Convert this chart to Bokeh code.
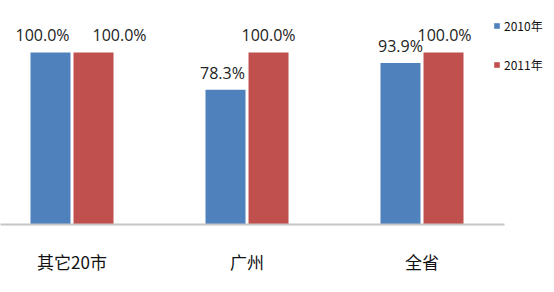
from bokeh.plotting import figure
from bokeh.models import ColumnDataSource, FixedTicker, Legend, LegendItem, Range1d
from bokeh.transform import dodge
from bokeh.core.properties import value
from bokeh.embed import file_html
from bokeh.resources import INLINE

# ---- data ----
categories = ["其它20市", "广州", "全省"]
series_names = ["2010年", "2011年"]
v2010 = [100.0, 78.3, 93.9]
v2011 = [100.0, 100.0, 100.0]

# ---- styling (label nudges, not data) ----
dx2010 = [-8, -3, 0]
dx2011 = [26, 0, 1]

idx = list(range(len(categories)))
src = ColumnDataSource(dict(
    x=idx,
    v2010=v2010,
    v2011=v2011,
    t2010=["%.1f%%" % v for v in v2010],
    t2011=["%.1f%%" % v for v in v2011],
    dx2010=dx2010,
    dx2011=dx2011,
))

FW = 504
p = figure(output_backend="svg", toolbar_location=None,
           frame_width=FW, frame_height=224,
           x_range=Range1d(-0.4086, -0.4086 + FW / 175.0), y_range=Range1d(0, 130.2),
           y_axis_location=None, min_border_left=0, min_border_top=0,
           min_border_right=50, min_border_bottom=68)
p.outline_line_color = None
p.xgrid.grid_line_color = None
p.ygrid.grid_line_color = None
p.background_fill_color = "white"
p.border_fill_color = "white"

W = 0.2286
OFF = 0.1229
BLUE = "#4F81BD"
RED = "#C0504D"

r1 = p.vbar(x=dodge("x", -OFF), top="v2010", width=W, source=src,
            fill_color=BLUE, line_color=None)
r2 = p.vbar(x=dodge("x", OFF), top="v2011", width=W, source=src,
            fill_color=RED, line_color=None)

p.text(x=dodge("x", -OFF), y="v2010", text="t2010", x_offset="dx2010", y_offset=-17,
       source=src, text_align="center", text_baseline="middle",
       text_font=value("Open Sans"), text_font_size="16px", text_color="#222222")
p.text(x=dodge("x", OFF), y="v2011", text="t2011", x_offset="dx2011", y_offset=-17,
       source=src, text_align="center", text_baseline="middle",
       text_font=value("Open Sans"), text_font_size="16px", text_color="#222222")

ax = p.xaxis[0]
ax.ticker = FixedTicker(ticks=idx)
ax.major_label_overrides = {i: c for i, c in zip(idx, categories)}
ax.major_tick_line_color = None
ax.minor_tick_line_color = None
ax.major_tick_out = 0
ax.major_tick_in = 0
ax.axis_line_color = "#c6c6c6"
ax.axis_line_width = 2
ax.major_label_standoff = 24
ax.major_label_text_font = "Noto Sans CJK SC"
ax.major_label_text_font_size = "17px"
ax.major_label_text_color = "#111111"

legend = Legend(items=[LegendItem(label=series_names[0], renderers=[r1]),
                       LegendItem(label=series_names[1], renderers=[r2])],
                location=(-11, 151))
legend.border_line_color = None
legend.background_fill_alpha = 0
legend.padding = 0
legend.margin = 0
legend.glyph_width = 7
legend.glyph_height = 7
legend.label_height = 12
legend.label_standoff = 4
legend.spacing = 22
legend.label_text_font = "Noto Sans CJK SC"
legend.label_text_font_size = "12px"
legend.label_text_color = "#111111"
p.add_layout(legend, "right")

open("out.html", "w").write(file_html(p, INLINE))
